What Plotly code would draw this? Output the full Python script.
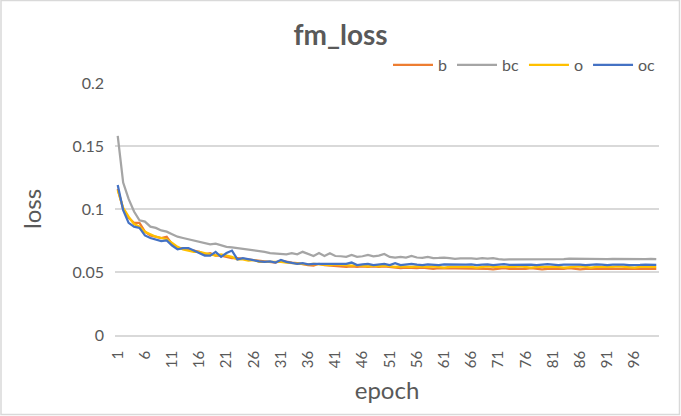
import plotly.graph_objects as go

W, H = 681, 416
L, R, T, B = 115, 22, 83, 81

epochs = [str(i) for i in range(1, 101)]
tick_labels = [str(i) for i in range(1, 100, 5)]

b = [0.116, 0.100, 0.093, 0.089, 0.089, 0.082, 0.079, 0.078, 0.077, 0.078,
     0.072, 0.069, 0.069, 0.068, 0.067, 0.066, 0.064, 0.065, 0.063, 0.063,
     0.062, 0.061, 0.061, 0.0605, 0.060, 0.059, 0.0585, 0.058, 0.058, 0.0575,
     0.059, 0.058, 0.0575, 0.057, 0.056, 0.0555, 0.055, 0.0565, 0.0555, 0.055,
     0.0545, 0.054, 0.054, 0.0545, 0.054, 0.0545, 0.054, 0.0545, 0.054, 0.0545,
     0.054, 0.0535, 0.053, 0.0535, 0.053, 0.053, 0.0535, 0.053, 0.0525, 0.053,
     0.053, 0.0525, 0.053, 0.0525, 0.053, 0.0525, 0.0525, 0.053, 0.0525, 0.052,
     0.0525, 0.053, 0.0525, 0.0525, 0.052, 0.0525, 0.053, 0.0525, 0.052, 0.0525,
     0.0525, 0.052, 0.0525, 0.053, 0.0525, 0.052, 0.0525, 0.0525, 0.052, 0.0525,
     0.052, 0.0525, 0.0525, 0.052, 0.0525, 0.052, 0.0525, 0.0525, 0.052, 0.0525]

bc = [0.158, 0.121, 0.108, 0.098, 0.091, 0.090, 0.086, 0.085, 0.083, 0.082,
      0.080, 0.078, 0.077, 0.076, 0.075, 0.074, 0.0735, 0.072, 0.0725, 0.071,
      0.070, 0.0695, 0.069, 0.0685, 0.068, 0.067, 0.0665, 0.066, 0.065, 0.0645,
      0.0645, 0.064, 0.065, 0.064, 0.066, 0.0645, 0.0627, 0.065, 0.0627, 0.0648,
      0.0627, 0.0625, 0.062, 0.0635, 0.062, 0.0625, 0.0636, 0.0625, 0.063, 0.0643,
      0.062, 0.0615, 0.062, 0.0615, 0.0627, 0.0615, 0.0612, 0.062, 0.061, 0.0612,
      0.0615, 0.061, 0.0605, 0.0608, 0.061, 0.0608, 0.0605, 0.061, 0.0607, 0.061,
      0.0603, 0.0598, 0.060, 0.060, 0.0602, 0.060, 0.0602, 0.0603, 0.060, 0.0602,
      0.0604, 0.0605, 0.0603, 0.0606, 0.0605, 0.0603, 0.0605, 0.0603, 0.0602, 0.0604,
      0.0603, 0.0604, 0.0603, 0.0603, 0.0602, 0.0604, 0.0603, 0.0603, 0.0604, 0.0603]

o = [0.115, 0.101, 0.094, 0.088, 0.086, 0.082, 0.080, 0.078, 0.077, 0.076,
     0.073, 0.070, 0.068, 0.067, 0.066, 0.066, 0.065, 0.064, 0.063, 0.064,
     0.063, 0.062, 0.060, 0.060, 0.059, 0.0595, 0.058, 0.058, 0.0585, 0.058,
     0.058, 0.0575, 0.057, 0.0565, 0.0565, 0.056, 0.0565, 0.056, 0.0555, 0.0555,
     0.056, 0.0555, 0.0555, 0.055, 0.0555, 0.055, 0.0545, 0.055, 0.0545, 0.055,
     0.0545, 0.054, 0.0545, 0.054, 0.054, 0.0545, 0.054, 0.054, 0.0545, 0.054,
     0.0535, 0.054, 0.054, 0.0545, 0.054, 0.054, 0.0535, 0.054, 0.0545, 0.054,
     0.054, 0.0535, 0.054, 0.054, 0.0545, 0.054, 0.0535, 0.054, 0.054, 0.0545,
     0.054, 0.054, 0.0535, 0.054, 0.054, 0.0545, 0.054, 0.0535, 0.054, 0.054,
     0.0535, 0.054, 0.0545, 0.054, 0.054, 0.0535, 0.054, 0.054, 0.0545, 0.054]

oc = [0.119, 0.099, 0.089, 0.086, 0.085, 0.079, 0.077, 0.076, 0.0745, 0.075,
      0.071, 0.068, 0.069, 0.069, 0.067, 0.065, 0.063, 0.063, 0.066, 0.062,
      0.065, 0.067, 0.060, 0.061, 0.060, 0.059, 0.0585, 0.058, 0.0585, 0.0575,
      0.0595, 0.058, 0.0575, 0.0565, 0.057, 0.056, 0.0565, 0.0565, 0.056, 0.0565,
      0.056, 0.056, 0.0565, 0.0575, 0.0555, 0.056, 0.0565, 0.0555, 0.056, 0.0565,
      0.0555, 0.057, 0.0555, 0.056, 0.0565, 0.0558, 0.0555, 0.056, 0.0558, 0.0555,
      0.056, 0.0558, 0.0562, 0.0555, 0.0558, 0.056, 0.0555, 0.0558, 0.056, 0.0555,
      0.0558, 0.0562, 0.0556, 0.0558, 0.0555, 0.056, 0.0558, 0.0555, 0.0558, 0.0562,
      0.0558, 0.0555, 0.0558, 0.056, 0.0562, 0.0558, 0.0555, 0.0558, 0.056, 0.0558,
      0.0555, 0.0558, 0.056, 0.0558, 0.0555, 0.0558, 0.0556, 0.0558, 0.0557, 0.0556]

series = [("b", b, "#ED7D31"), ("bc", bc, "#A5A5A5"),
          ("o", o, "#FFC000"), ("oc", oc, "#4472C4")]

FONT = "Lato"
TXT = "#595959"
GRID = "#D9D9D9"

fig = go.Figure()
for name, vals, color in series:
    fig.add_trace(go.Scatter(x=epochs, y=vals, name=name, mode="lines",
                             line=dict(color=color, width=2.25)))

pw = W - L - R
ph = H - T - B

def px_x(p):
    return (p - L) / pw

def px_y(p):
    return (H - B - p) / ph

fig.update_layout(
    width=W, height=H,
    margin=dict(l=L, r=R, t=T, b=B, autoexpand=False),
    paper_bgcolor="white", plot_bgcolor="white",
    font=dict(family=FONT, color=TXT),
    title=dict(text="<b>fm_loss</b>", x=0.5, xref="container", xanchor="center",
               y=1 - 35 / H, yref="container", yanchor="middle",
               font=dict(size=28, color=TXT, family=FONT)),
    legend=dict(orientation="h", x=px_x(388), xanchor="left",
                y=px_y(65), yanchor="middle",
                font=dict(size=16, color=TXT, family=FONT),
                bgcolor="rgba(0,0,0,0)", itemwidth=40,
                traceorder="normal"),
    xaxis=dict(type="category", categoryorder="array", categoryarray=epochs,
               range=[-0.5, 99.5], tickmode="array", tickvals=tick_labels,
               ticktext=tick_labels, tickangle=-90, showgrid=False,
               showline=True, linecolor=GRID, linewidth=1.5, ticks="",
               tickfont=dict(size=15, color=TXT, family=FONT),
               ticklabelstandoff=8, automargin=False,
               title=dict(text="epoch", standoff=15,
                          font=dict(size=24, color=TXT, family=FONT)),
               zeroline=False),
    yaxis=dict(range=[0, 0.2], dtick=0.05, tick0=0, showgrid=True,
               gridcolor=GRID, gridwidth=1.5, zeroline=False, showline=False,
               ticks="", tickfont=dict(size=16, color=TXT, family=FONT),
               ticklabelstandoff=10, automargin=False,
               title=dict(text="loss", standoff=23,
                          font=dict(size=24, color=TXT, family=FONT))),
    shapes=[dict(type="rect", xref="paper", yref="paper",
                 x0=px_x(1), x1=px_x(W - 1.5), y0=px_y(H - 1.5), y1=px_y(0.5),
                 line=dict(color=GRID, width=1.5), fillcolor="rgba(0,0,0,0)",
                 layer="below")],
    showlegend=True,
)

fig.write_html("out.html", config={"displayModeBar": False},
               post_script="document.body.style.margin='0';document.body.style.overflow='hidden';")
